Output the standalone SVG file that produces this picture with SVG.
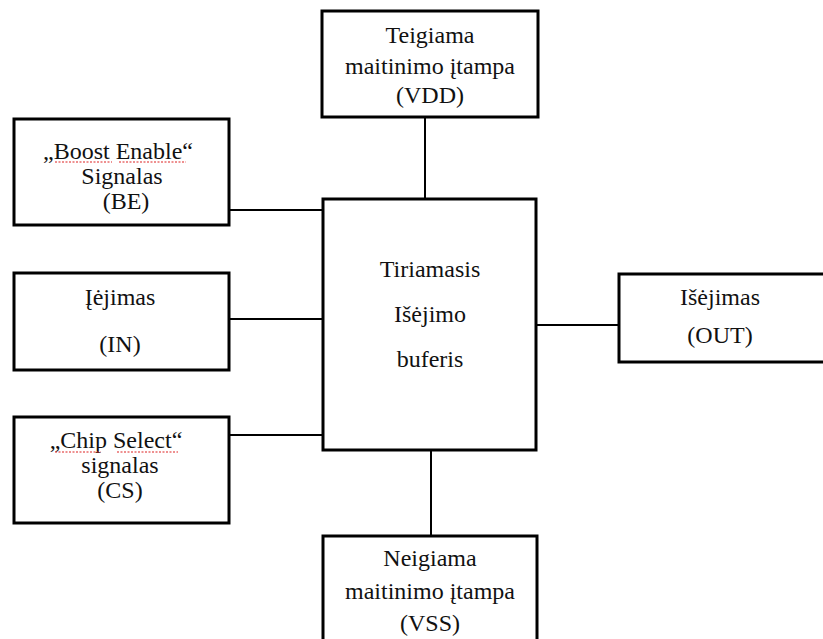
<svg xmlns="http://www.w3.org/2000/svg" width="823" height="639" viewBox="0 0 823 639">
<defs>
<style>
.box{fill:#fff;stroke:#000;stroke-width:3}
.t{font-family:"Liberation Serif","Times New Roman",serif;font-size:24px;fill:#111;text-anchor:middle}
.c{stroke:#000;stroke-width:2;fill:none}
.sp{stroke:#d22;stroke-width:1.2;fill:none;stroke-dasharray:2 1.5}
</style>
</defs>
<rect width="823" height="639" fill="#fff"/>
<g id="connectors">
<line class="c" x1="425" y1="117" x2="425" y2="199"/>
<line class="c" x1="229" y1="210" x2="323" y2="210"/>
<line class="c" x1="229" y1="319" x2="323" y2="319"/>
<line class="c" x1="229" y1="435" x2="323" y2="435"/>
<line class="c" x1="536" y1="325" x2="619" y2="325"/>
<line class="c" x1="431" y1="450" x2="431" y2="536"/>
</g>
<g id="vdd">
<rect class="box" x="322" y="11" width="216" height="106"/>
<text class="t" x="430" y="43">Teigiama</text>
<text class="t" x="430" y="74">maitinimo įtampa</text>
<text class="t" x="430" y="103">(VDD)</text>
</g>
<g id="be">
<rect class="box" x="14" y="119" width="215" height="106"/>
<text class="t" x="118" y="159">„Boost Enable“</text>
<text class="t" x="122" y="184">Signalas</text>
<text class="t" x="126" y="209">(BE)</text>
<path class="sp" d="M55 162 L112 162 M119 162 L186 162"/>
</g>
<g id="in">
<rect class="box" x="14" y="273" width="215" height="97"/>
<text class="t" x="120" y="305">Įėjimas</text>
<text class="t" x="120" y="352">(IN)</text>
</g>
<g id="cs">
<rect class="box" x="14" y="417" width="215" height="106"/>
<text class="t" x="116" y="448">„Chip Select“</text>
<text class="t" x="120" y="473">signalas</text>
<text class="t" x="120" y="498">(CS)</text>
<path class="sp" d="M55 452 L101 452 M117 452 L178 452"/>
</g>
<g id="center">
<rect class="box" x="323" y="199" width="213" height="251"/>
<text class="t" x="430" y="277">Tiriamasis</text>
<text class="t" x="430" y="322">Išėjimo</text>
<text class="t" x="430" y="367">buferis</text>
</g>
<g id="out">
<rect class="box" x="619" y="274" width="210" height="88"/>
<text class="t" x="720" y="305">Išėjimas</text>
<text class="t" x="720" y="343">(OUT)</text>
</g>
<g id="vss">
<rect class="box" x="323" y="536" width="214" height="110"/>
<text class="t" x="430" y="566">Neigiama</text>
<text class="t" x="430" y="599">maitinimo įtampa</text>
<text class="t" x="430" y="631">(VSS)</text>
</g>
</svg>
